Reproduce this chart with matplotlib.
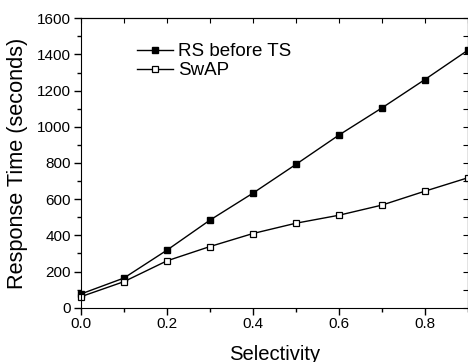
import matplotlib
matplotlib.use('Agg')
import matplotlib.pyplot as plt
from matplotlib.ticker import MultipleLocator

plt.rcParams['font.family'] = ['Liberation Sans', 'DejaVu Sans']

# data
selectivity = [0.0, 0.1, 0.2, 0.3, 0.4, 0.5, 0.6, 0.7, 0.8, 0.9]
rs_before_ts = [76, 164, 318, 484, 633, 792, 954, 1104, 1261, 1423]
swap = [61, 144, 259, 338, 410, 467, 511, 567, 644, 718]

fig = plt.figure(figsize=(4.68, 3.62), dpi=100)
ax = fig.add_axes([0.173, 0.150, 0.8265, 0.7995])

ax.plot(selectivity, rs_before_ts, '-s', color='black', lw=1,
        ms=5, mfc='black', mec='black', label='RS before TS', clip_on=False)
ax.plot(selectivity, swap, '-s', color='black', lw=1,
        ms=5, mfc='white', mec='black', mew=0.9, label='SwAP', clip_on=False)

ax.set_xlim(0, 0.9)
ax.set_ylim(0, 1600)
ax.xaxis.set_major_locator(MultipleLocator(0.2))
ax.xaxis.set_minor_locator(MultipleLocator(0.1))
ax.yaxis.set_major_locator(MultipleLocator(200))
ax.yaxis.set_minor_locator(MultipleLocator(100))
ax.xaxis.set_major_formatter(plt.FuncFormatter(lambda v, p: '%.1f' % v))

ax.tick_params(which='both', direction='out', top=False, right=False,
               labelsize=11, width=1, pad=2)
ax.tick_params(which='major', length=5)
ax.tick_params(which='minor', length=3)

# inward ticks on top and right spines
ax_top = ax.secondary_xaxis('top')
ax_top.xaxis.set_major_locator(MultipleLocator(0.1))
ax_top.tick_params(direction='in', length=3.5, labeltop=False)
ax_right = ax.secondary_yaxis('right')
ax_right.yaxis.set_major_locator(MultipleLocator(100))
ax_right.tick_params(direction='in', length=3.5, labelright=False)

ax.set_xlabel('Selectivity', fontsize=14.6)
ax.xaxis.set_label_coords(0.5, -0.128)
ax.set_ylabel('Response Time (seconds)', fontsize=15.7)
ax.yaxis.set_label_coords(-0.137, 0.497)

leg = ax.legend(loc='upper left', bbox_to_anchor=(0.112, 0.96), frameon=False,
                fontsize=13.5, handlelength=1.9, handletextpad=0.27,
                labelspacing=0.12, markerscale=0.85, borderpad=0.2)

fig.savefig('out.png', dpi=100)
